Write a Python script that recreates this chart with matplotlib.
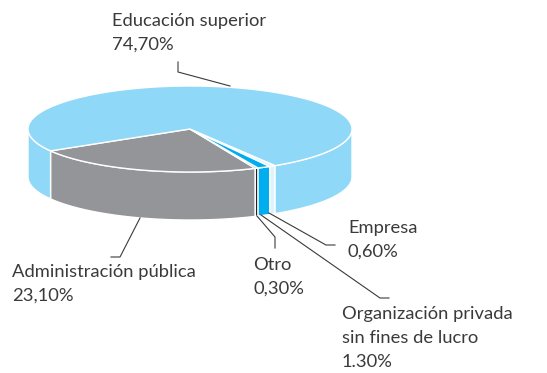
import numpy as np
import matplotlib.pyplot as plt
from matplotlib.patches import Polygon

# share of each sector, in drawing order (counterclockwise)
labels = ["Administración pública", "Otro", "Organización privada\nsin fines de lucro", "Empresa", "Educación superior"]
pct_text = ["23,10%", "0,30%", "1.30%", "0,60%", "74,70%"]
values = [23.1, 0.3, 1.3, 0.6, 74.7]
colors = ["#939598", "#231f20", "#00aeef", "#dff3fc", "#8fd8f8"]

# ellipse geometry in pixels
cx, cy = 190, 129
a, b = 162, 43
depth = 48
start = 210.6

fig = plt.figure(figsize=(5.47, 3.73), dpi=100)
ax = fig.add_axes([0, 0, 1, 1])
ax.set_xlim(0, 547)
ax.set_ylim(373, 0)
ax.axis("off")


def pt(deg, dy=0):
    t = np.radians(deg)
    return cx + a * np.cos(t), cy - b * np.sin(t) + dy


angles = [start]
for v in values:
    angles.append(angles[-1] + v / 100 * 360)

# side walls: only the front half (180..360 deg) is visible
for i in range(len(values)):
    t1, t2 = angles[i], angles[i + 1]
    for lo, hi in [(180, 360), (540, 720)]:
        s, e = max(t1, lo), min(t2, hi)
        if e <= s:
            continue
        ts = np.linspace(s, e, 80)
        top = [pt(t) for t in ts]
        bot = [pt(t, depth) for t in ts[::-1]]
        ax.add_patch(Polygon(top + bot, closed=True, facecolor=colors[i],
                             edgecolor="white", linewidth=1.0, zorder=1))

# top face
for i in range(len(values)):
    ts = np.linspace(angles[i], angles[i + 1], 200)
    poly = [(cx, cy)] + [pt(t) for t in ts]
    ax.add_patch(Polygon(poly, closed=True, facecolor=colors[i],
                         edgecolor="white", linewidth=1.0, zorder=2))

# leader lines
line_kw = dict(color="#3a3a3a", linewidth=0.8, zorder=3)
leaders = [
    [(140, 218), (120, 257), (111, 257)],
    [(257, 216), (275, 237), (275, 248)],
    [(261, 215), (380, 298), (389, 298)],
    [(269, 213), (326, 245), (335, 245)],
    [(230, 86), (178, 72), (178, 62)],
]
for seg in leaders:
    xs, ys = zip(*seg)
    ax.plot(xs, ys, **line_kw)

# labels
text_pos = [(12, 264), (253, 257), (342, 306), (348, 220), (112, 13)]
for lab, p, (x, y) in zip(labels, pct_text, text_pos):
    ax.text(x, y, lab + "\n" + p, ha="left", va="top", fontsize=13.2,
            family="Lato", color="#3a3a3a", linespacing=1.62)

fig.savefig("out.png", dpi=100)
